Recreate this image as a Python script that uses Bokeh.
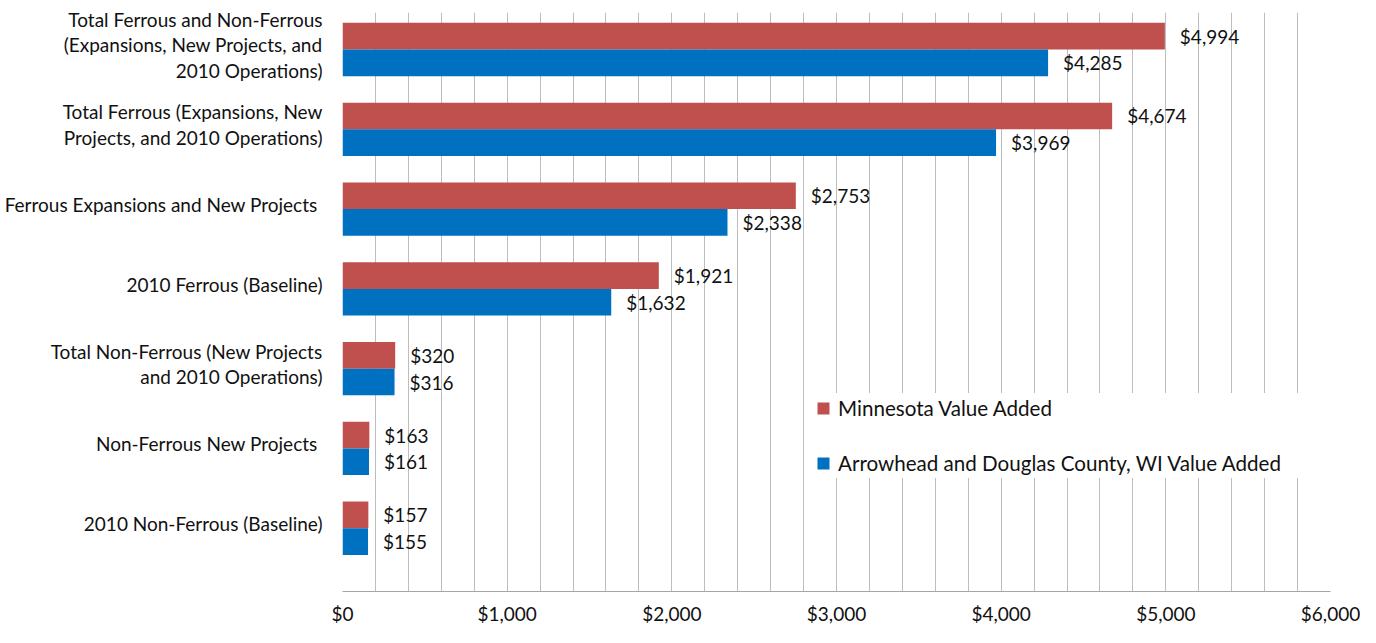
from bokeh.plotting import figure
from bokeh.models import (Range1d, FixedTicker, Legend, LegendItem, ColumnDataSource)
from bokeh.core.properties import value
from bokeh.embed import file_html
from bokeh.resources import INLINE

# Categories listed bottom-to-top
categories = [
    "2010 Non-Ferrous (Baseline)",
    "Non-Ferrous New Projects ",
    "Total Non-Ferrous (New Projects\nand 2010 Operations)",
    "2010 Ferrous (Baseline)",
    "Ferrous Expansions and New Projects ",
    "Total Ferrous (Expansions, New\nProjects, and 2010 Operations)",
    "Total Ferrous and Non-Ferrous\n(Expansions, New Projects, and\n2010 Operations)",
]
minnesota = [157, 163, 320, 1921, 2753, 4674, 4994]
arrowhead = [155, 161, 316, 1632, 2338, 3969, 4285]
series_names = ["Minnesota Value Added", "Arrowhead and Douglas County, WI Value Added"]
colors = ["#C0504D", "#0070C0"]
tick_values = [0, 1000, 2000, 3000, 4000, 5000, 6000]
tick_labels = ["$0", "$1,000", "$2,000", "$3,000", "$4,000", "$5,000", "$6,000"]

FONT = "Lato"
TXT = "#111111"

p = figure(width=1360, height=627, output_backend="svg", toolbar_location=None,
           x_range=Range1d(0, 6000), y_range=Range1d(-0.7926, 6.464),
           min_border_left=342, min_border_right=30, min_border_top=12, min_border_bottom=32)
p.outline_line_color = None
p.background_fill_color = "white"
p.border_fill_color = "white"

pos = list(range(len(categories)))
src = ColumnDataSource(dict(
    y_mn=[i + 0.167 for i in pos], y_ah=[i - 0.167 for i in pos],
    mn=minnesota, ah=arrowhead,
    mn_lbl=["${:,}".format(v) for v in minnesota],
    ah_lbl=["${:,}".format(v) for v in arrowhead],
))

p.hbar(y="y_mn", right="mn", left=0, height=0.334, source=src, fill_color=colors[0], line_color=None)
p.hbar(y="y_ah", right="ah", left=0, height=0.334, source=src, fill_color=colors[1], line_color=None)

p.text(x="mn", y="y_mn", text="mn_lbl", source=src, x_offset=15, text_align="left",
       text_baseline="middle", text_font=value(FONT), text_font_size="19px", text_color=TXT)
p.text(x="ah", y="y_ah", text="ah_lbl", source=src, x_offset=15, text_align="left",
       text_baseline="middle", text_font=value(FONT), text_font_size="19px", text_color=TXT)

# category axis (labels sit slightly above group centre, as in the original)
p.yaxis.ticker = FixedTicker(ticks=[i + 0.06 for i in pos])
p.yaxis.major_label_overrides = {i + 0.06: c for i, c in zip(pos, categories)}
p.yaxis.axis_line_color = None
p.yaxis.major_tick_out = 0
p.yaxis.major_tick_in = 0
p.yaxis.minor_tick_out = 0
p.yaxis.minor_tick_in = 0
p.yaxis.major_label_standoff = 20
p.yaxis.major_label_text_font = FONT
p.yaxis.major_label_text_font_size = "19px"
p.yaxis.major_label_text_color = TXT
p.yaxis.major_label_text_line_height = 1.1
p.ygrid.visible = False

p.xaxis.ticker = FixedTicker(ticks=tick_values)
p.xaxis.major_label_overrides = {v: l for v, l in zip(tick_values, tick_labels)}
p.xaxis.major_tick_out = 0
p.xaxis.major_tick_in = 0
p.xaxis.minor_tick_out = 0
p.xaxis.minor_tick_in = 0
p.xaxis.axis_line_color = "#A6A6A6"
p.xaxis.major_label_standoff = 10
p.xaxis.major_label_text_font = FONT
p.xaxis.major_label_text_font_size = "19px"
p.xaxis.major_label_text_color = TXT
p.xgrid.ticker = FixedTicker(ticks=list(range(0, 6001, 200)))
p.xgrid.grid_line_color = "#BDBDBD"
p.xgrid.grid_line_width = 1

# legend (marker-only renderers placed outside the visible range)
r1 = p.scatter(x=[-1000], y=[-5], marker="square", size=12, fill_color=colors[0], line_color=None)
r2 = p.scatter(x=[-1000], y=[-5], marker="square", size=12, fill_color=colors[1], line_color=None)
legend = Legend(items=[LegendItem(label=series_names[0], renderers=[r1]),
                       LegendItem(label=series_names[1], renderers=[r2])],
                location=(466, 113), padding=10, spacing=25, label_height=30,
                glyph_width=30, glyph_height=30, label_standoff=-3, label_width=468,
                label_text_font=FONT, label_text_font_size="20.6px", label_text_color=TXT,
                background_fill_color="white", background_fill_alpha=1.0,
                border_line_color=None, margin=0)
p.add_layout(legend)

open("out.html", "w").write(file_html(p, INLINE))
